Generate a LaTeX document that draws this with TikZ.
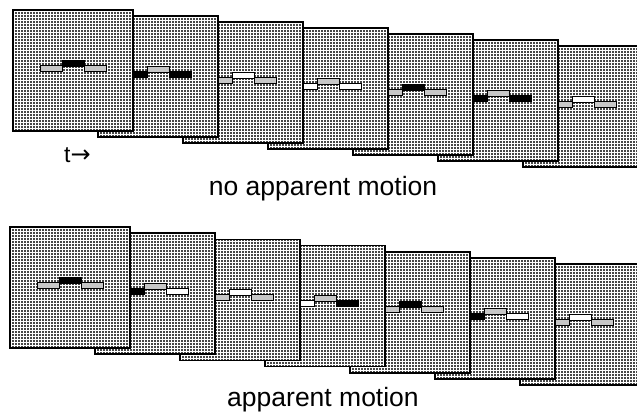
\documentclass[tikz,border=0pt]{standalone}
\usepackage{fontspec}
\setmainfont{Liberation Sans}
\newfontfamily\arrowfont{DejaVu Sans}
\tikzset{
  framebg/.style={fill=black!72},
  gridline/.style={draw=white, line width=0.6pt},
  frameborder/.style={draw=black, line width=1.6pt},
  patbar/.style={draw=black, line width=0.9pt, fill=black!22},
  blkbar/.style={draw=black, line width=0.9pt, fill=black},
  whtbar/.style={draw=black, line width=0.9pt, fill=white},
  label/.style={font=\fontsize{26.5}{30}\selectfont, anchor=base, inner sep=0pt},
}
\newcommand\stimframe[5]{%
  \begin{scope}
    \fill[framebg] (#1,#2) rectangle ++(120,121);
    \begin{scope}
      \clip (#1,#2) rectangle ++(120,121);
      \foreach \k in {1.5,4.5,...,121} {
        \draw[gridline] ({#1+\k},#2) -- ++(0,121);
        \draw[gridline] (#1,{#2+\k}) -- ++(120,0);
      }
    \end{scope}
    \draw[#3] ({#1+27},{#2+55}) rectangle ({#1+49},{#2+61});
    \draw[#4] ({#1+49},{#2+50}) rectangle ({#1+71},{#2+56});
    \draw[#5] ({#1+71},{#2+55}) rectangle ({#1+93},{#2+61});
    \draw[frameborder] (#1,#2) rectangle ++(120,121);
  \end{scope}}
\begin{document}
\begin{tikzpicture}[x=1pt,y=-1pt]
  \useasboundingbox (0,0) rectangle (637,416);
  \clip (0,0) rectangle (637,416);
  % top row: no apparent motion (drawn back to front)
  \stimframe{523}{46}{patbar}{whtbar}{patbar}
  \stimframe{438}{40}{blkbar}{patbar}{blkbar}
  \stimframe{353}{34}{patbar}{blkbar}{patbar}
  \stimframe{268}{28}{whtbar}{patbar}{whtbar}
  \stimframe{183}{22}{patbar}{whtbar}{patbar}
  \stimframe{98}{16}{blkbar}{patbar}{blkbar}
  \stimframe{13}{10}{patbar}{blkbar}{patbar}
  % bottom row: apparent motion
  \stimframe{520}{264.2}{patbar}{whtbar}{patbar}
  \stimframe{435}{258}{blkbar}{patbar}{whtbar}
  \stimframe{350}{251.8}{patbar}{blkbar}{patbar}
  \stimframe{265}{245.6}{whtbar}{patbar}{blkbar}
  \stimframe{180}{239.4}{patbar}{whtbar}{patbar}
  \stimframe{95}{233.2}{blkbar}{patbar}{whtbar}
  \stimframe{10}{227}{patbar}{blkbar}{patbar}
  % labels
  \node[anchor=base west, inner sep=0pt, font=\fontsize{23}{26}\selectfont] (tarrow) at (64,162)
    {t{\arrowfont\fontsize{24}{26}\selectfont →}};
  \node[label] (nomotion) at (323,195) {no apparent motion};
  \node[label] (motion) at (323,406) {apparent motion};
\end{tikzpicture}
\end{document}
